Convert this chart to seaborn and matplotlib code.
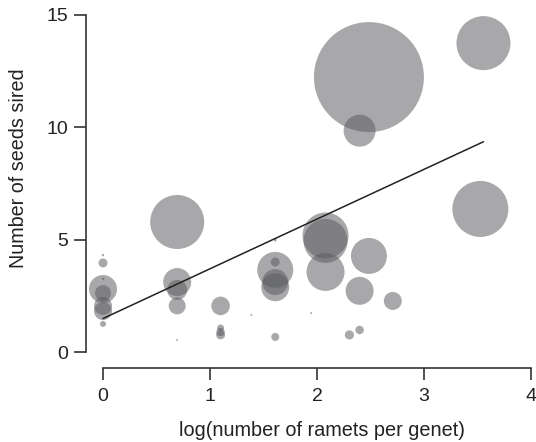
import numpy as np
import pandas as pd
import matplotlib
matplotlib.use("Agg")
import matplotlib.pyplot as plt
import seaborn as sns

# ---- data ----
ramets = [1, 1, 1, 1, 1, 1, 1, 1,
          2, 2, 2, 2, 2,
          3, 3, 3, 3,
          4,
          5, 5, 5, 5, 5, 5,
          7,
          8, 8, 8,
          10,
          11, 11, 11,
          12, 12,
          15,
          34, 35]
seeds = [3.98, 4.33, 2.82, 2.64, 2.07, 1.84, 1.27, 3.27,
         5.80, 3.13, 2.78, 2.07, 0.55,
         2.07, 1.09, 0.91, 0.78,
         1.67,
         3.67, 4.02, 3.13, 2.90, 5.00, 0.69,
         1.75,
         5.20, 4.96, 3.58,
         0.78,
         9.86, 2.74, 1.00,
         12.24, 4.29,
         2.29,
         6.38, 13.75]
# relative bubble area
bubble = [20, 1.5, 196, 64, 81, 81, 9, 1.5,
          729, 196, 100, 72, 1,
          86, 12, 18, 20,
          1,
          324, 20, 169, 196, 2.3, 16,
          1,
          529, 484, 361,
          21,
          256, 196, 18,
          3025, 324,
          81,
          784, 729]

fit_intercept = 1.51
fit_slope = 2.21

x_ticks = [0, 1, 2, 3, 4]
y_ticks = [0, 5, 10, 15]
x_label = "log(number of ramets per genet)"
y_label = "Number of seeds sired"

df = pd.DataFrame({"x": np.log(ramets), "y": seeds, "area": bubble})

# ---- figure ----
sns.set_style("ticks")
plt.rcParams["font.family"] = ["Liberation Sans", "DejaVu Sans"]

W, H = 536, 442
fig = plt.figure(figsize=(W / 100, H / 100), dpi=100)
ax = fig.add_axes([86 / W, 1 - 368 / H, 447.2 / W, 362 / H])

max_area = max(bubble)
s_max = (2 * 0.72 * 55) ** 2
sns.scatterplot(data=df, x="x", y="y", size="area",
                sizes=(0, s_max), size_norm=(0, max_area),
                color="#5b5c60", alpha=0.53, linewidth=0,
                legend=False, ax=ax, clip_on=False, zorder=2)

xs = np.array([df["x"].min(), df["x"].max()])
sns.lineplot(x=xs, y=fit_intercept + fit_slope * xs, color="#222222",
             linewidth=1.1, ax=ax, zorder=3)

ax.set_xlim(-0.159, 4.02)
ax.set_ylim(-0.69, 15.4)
ax.set_xticks(x_ticks)
ax.set_yticks(y_ticks)
ax.set_xticklabels([str(t) for t in x_ticks])
ax.set_yticklabels([str(t) for t in y_ticks])

for side in ("top", "right"):
    ax.spines[side].set_visible(False)
ax.spines["left"].set_bounds(0, 15)
ax.spines["bottom"].set_bounds(0, 4)
for side in ("left", "bottom"):
    ax.spines[side].set_color("#333333")
    ax.spines[side].set_linewidth(1.2)

ax.tick_params(axis="both", length=8.6, width=1.2, color="#333333",
               labelsize=14, labelcolor="#222222")
ax.tick_params(axis="y", pad=4)
ax.tick_params(axis="x", pad=6)

ax.set_xlabel("")
ax.set_ylabel("")
fig.text(322 / W, 1 - 430 / H, x_label, ha="center", va="center",
         fontsize=14.3, color="#222222")
fig.text(19 / W, 1 - 168 / H, y_label, ha="center", va="center",
         rotation=90, fontsize=14.2, color="#222222")

fig.savefig("out.png", dpi=100)
